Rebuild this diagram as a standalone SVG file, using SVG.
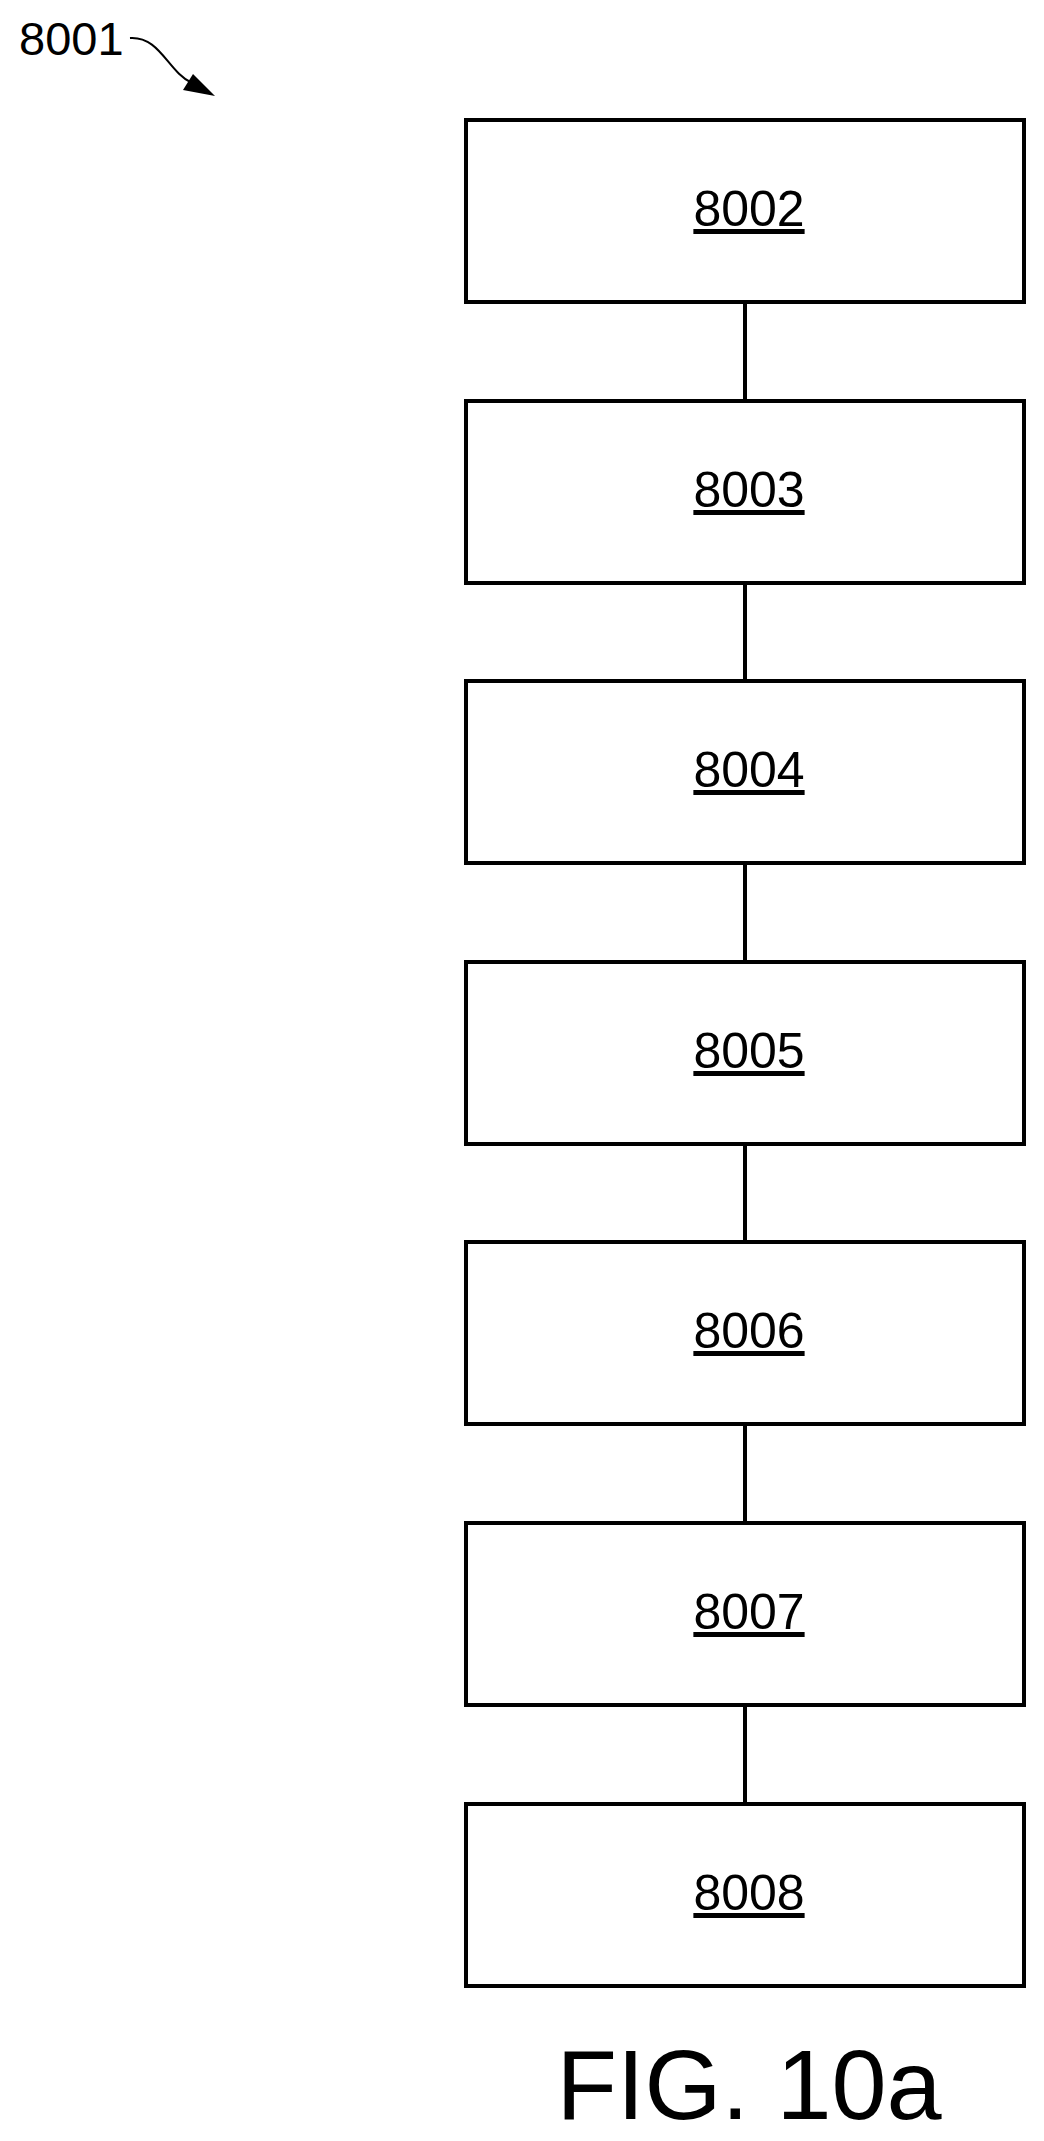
<svg xmlns="http://www.w3.org/2000/svg" width="1044" height="2141" viewBox="0 0 1044 2141">
<style>
.box{fill:#fff;stroke:#000;stroke-width:4}
.lbl{font-family:"Liberation Sans",Arial,sans-serif;font-size:50px;text-anchor:middle;text-decoration:underline}
.con{stroke:#000;stroke-width:4}
</style>
<rect width="1044" height="2141" fill="#fff"/>
<text x="19" y="55" font-family="Liberation Sans,Arial,sans-serif" font-size="47">8001</text>
<path d="M130,38 C160,36 168,72 192,83" fill="none" stroke="#000" stroke-width="2"/>
<polygon points="215,96 183,90 193,74" fill="#000"/>
<g id="connectors">
<line class="con" x1="745" y1="302" x2="745" y2="401"/>
<line class="con" x1="745" y1="583" x2="745" y2="681"/>
<line class="con" x1="745" y1="863" x2="745" y2="962"/>
<line class="con" x1="745" y1="1144" x2="745" y2="1242"/>
<line class="con" x1="745" y1="1424" x2="745" y2="1523"/>
<line class="con" x1="745" y1="1705" x2="745" y2="1804"/>
</g>
<g id="n8002"><rect class="box" x="466" y="120" width="558" height="182"/><text class="lbl" x="749" y="226">8002</text></g>
<g id="n8003"><rect class="box" x="466" y="401" width="558" height="182"/><text class="lbl" x="749" y="507">8003</text></g>
<g id="n8004"><rect class="box" x="466" y="681" width="558" height="182"/><text class="lbl" x="749" y="787">8004</text></g>
<g id="n8005"><rect class="box" x="466" y="962" width="558" height="182"/><text class="lbl" x="749" y="1068">8005</text></g>
<g id="n8006"><rect class="box" x="466" y="1242" width="558" height="182"/><text class="lbl" x="749" y="1348">8006</text></g>
<g id="n8007"><rect class="box" x="466" y="1523" width="558" height="182"/><text class="lbl" x="749" y="1629">8007</text></g>
<g id="n8008"><rect class="box" x="466" y="1804" width="558" height="182"/><text class="lbl" x="749" y="1910">8008</text></g>
<text x="749" y="2119" font-family="Liberation Sans,Arial,sans-serif" font-size="99" text-anchor="middle">FIG. 10a</text>
</svg>
